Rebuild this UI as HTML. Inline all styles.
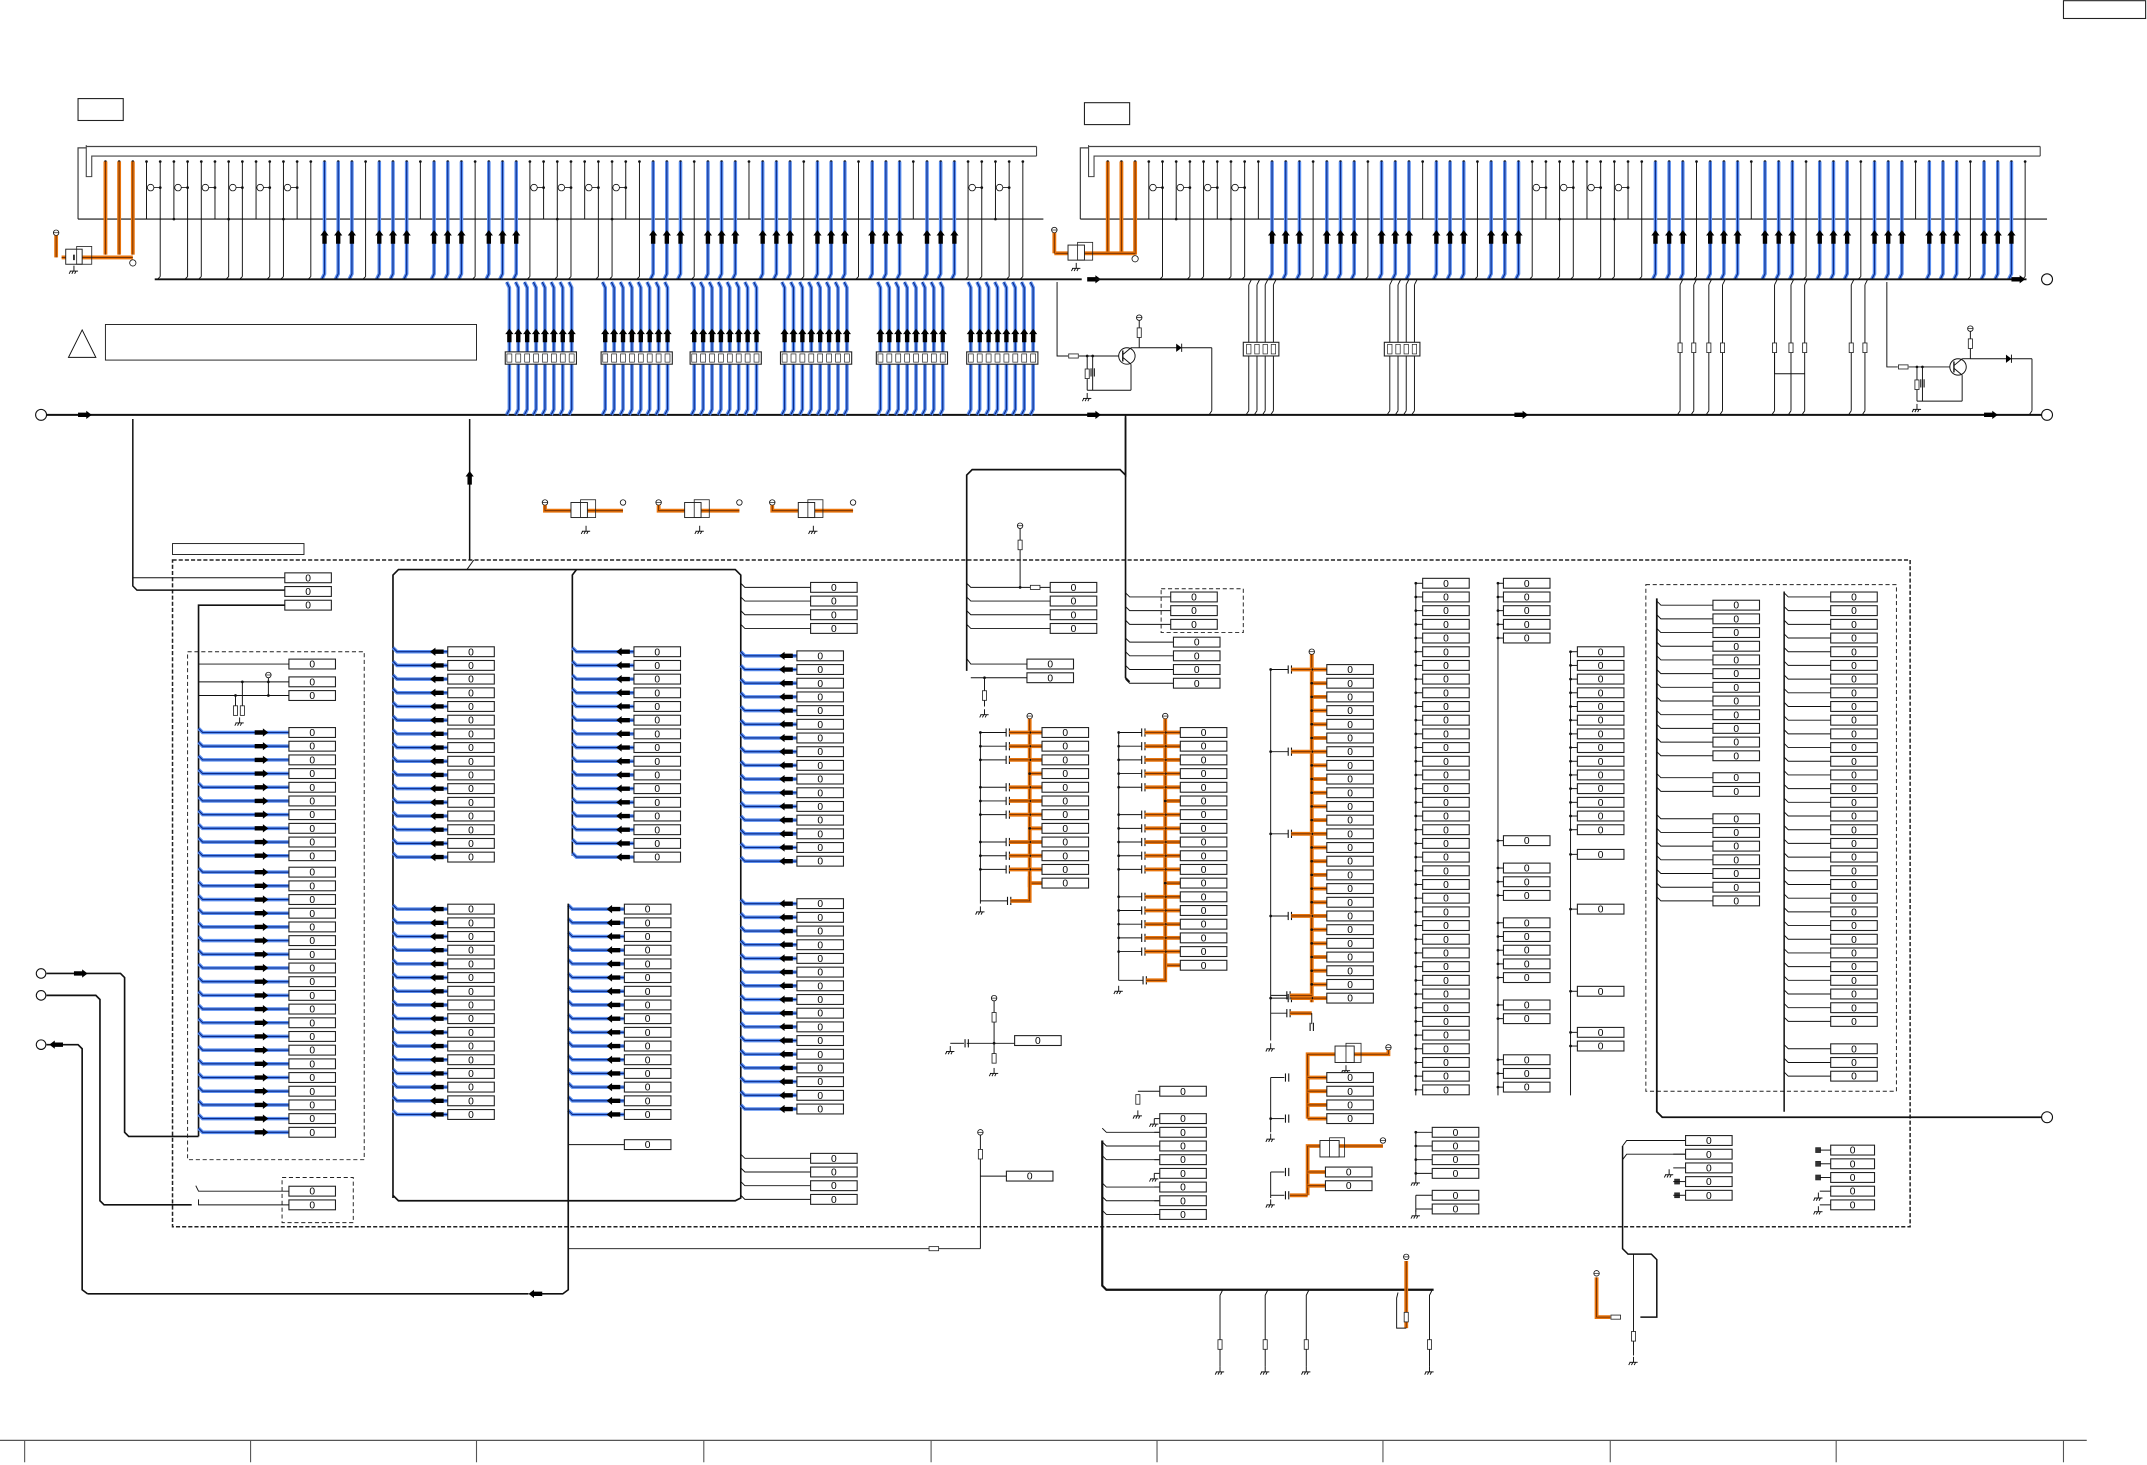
<!DOCTYPE html>
<html><head><meta charset="utf-8">
<style>html,body{margin:0;padding:0;background:#fff;}svg{display:block}</style>
</head><body>
<svg id="s" xmlns="http://www.w3.org/2000/svg" width="2147" height="1465" viewBox="0 0 1568 1070" preserveAspectRatio="none" font-family="Liberation Sans, sans-serif"></svg>
<script>
const S=[];
function l(x1,y1,x2,y2,c,w){S.push(`<line x1="${x1}" y1="${y1}" x2="${x2}" y2="${y2}" stroke="${c||'#111'}" stroke-width="${w||0.7}"/>`);}
function pl(p,c,w,d){S.push(`<polyline points="${p}" fill="none" stroke="${c||'#111'}" stroke-width="${w||0.7}"${d?` stroke-dasharray="${d}"`:''}/>`);}
function r(x,y,w,h,sw,f,d){S.push(`<rect x="${x}" y="${y}" width="${w}" height="${h}" fill="${f||'#fff'}" stroke="#222" stroke-width="${sw||0.7}"${d?` stroke-dasharray="${d}"`:''}/>`);}
function box(x,y,w){w=w||34;r(x,y-3.6,w,7.2,0.8);S.push(`<text x="${x+w/2}" y="${y+2.6}" font-size="7.5" text-anchor="middle">0</text>`);}
function blue(p){pl(p,'#5b8ff0',2.6);pl(p,'#0b2b8a',0.8);}
function orange(p){pl(p,'#e8740c',2.8);pl(p,'#6a2a00',0.6);}
function circ(x,y,rr,sw){S.push(`<circle cx="${x}" cy="${y}" r="${rr}" fill="#fff" stroke="#111" stroke-width="${sw||0.8}"/>`);}
function dot(x,y){S.push(`<circle cx="${x}" cy="${y}" r="1" fill="#111"/>`);}
function poly(p){S.push(`<polygon points="${p}" fill="#000"/>`);}
function aR(x,y){poly(`${x-6},${y-1.6} ${x},${y-1.6} ${x},${y-3} ${x+4},${y} ${x},${y+3} ${x},${y+1.6} ${x-6},${y+1.6}`);}
function aL(x,y){poly(`${x+6},${y-1.6} ${x},${y-1.6} ${x},${y-3} ${x-4},${y} ${x},${y+3} ${x},${y+1.6} ${x+6},${y+1.6}`);}
function aU(x,y){poly(`${x-1.6},${y+6} ${x-1.6},${y} ${x-3},${y} ${x},${y-4} ${x+3},${y} ${x+1.6},${y} ${x+1.6},${y+6}`);}
function gnd(x,y){l(x,y-4,x,y);l(x-3,y,x+3,y);l(x-2.5,y,x-3.5,y+2);l(x-0.5,y,x-1.5,y+2);l(x+1.5,y,x+0.5,y+2);}
function res(x,y){r(x-1.5,y-3.5,3,7,0.6);}
function resH(x,y){r(x-3.5,y-1.5,7,3,0.6);}
function cap(x,y){l(x-1.2,y-3,x-1.2,y+3,'#111',0.8);l(x+1.2,y-3,x+1.2,y+3,'#111',0.8);}
function vcc(x,y){circ(x,y,2,0.6);l(x-2,y,x+2,y,'#111',0.5);}

// title / label boxes
r(1507,0.5,60,13,0.8);
r(57,72,33,16,0.8);r(792,75,33,16,0.8);
// warning
S.push(`<polygon points="60,241 50,261 70,261" fill="#fff" stroke="#111" stroke-width="0.7"/>`);
r(77,237,271,26,0.7);
r(126,397,96,8,0.7);

// connectors
function conn(x0,x1,orX,blueSet,busEnd){
  pl(`${x0},160 ${x0},${108} ${x0+6},108`,'#444',0.9);
  l(x0+6,107,x1,107,'#444',1);
  pl(`${x0+6},106 ${x0+6},129 ${x0+10},129 ${x0+10},114 ${x1},114`,'#444',0.8);
  l(x1,107,x1,114,'#444',0.8);
  l(x0,160,x1+5,160,'#111',0.9);
  for(let i=0;i<68;i++){
    const x=x0+20+i*10; if(x>x1-3)break;
    dot(x,118);
    if(i<3){orange(`${x},118 ${x},186`);continue;}
    if(blueSet.has(i)){blue(`${x},118 ${x},200 ${x-2},204`);aU(x,172);continue;}
    l(x,118,x,160);
    if(i%2==0&&i>3){circ(x-7,137,2.4,0.6);l(x-4.6,137,x,137,'#111',0.6);dot(x,137);}
    if(i>=4&&i%3!=2){l(x,160,x,202);l(x,202,x-2,204);}
    if(i%4==1)dot(x,160);
  }
}
const bl=new Set([16,17,18,20,21,22,24,25,26,28,29,30,40,41,42,44,45,46,48,49,50,52,53,54,56,57,58,60,61,62]);
conn(57,757,0,bl);
const br=new Set([12,13,14,16,17,18,20,21,22,24,25,26,28,29,30,40,41,42,44,45,46,48,49,50,52,53,54,56,57,58,60,61,62,64,65,66]);
conn(789,1490,0,br);
// orange component left
orange('45,188 97,188');circ(97,192,2.3,0.6);vcc(41,170);orange('41,172 41,188');
r(48,182,12,11,0.7);r(56,180,11,13,0.6,'none');l(54,186,54,190,'#111',1.2);gnd(54,198);
orange('770,185 829,185');vcc(770,168);orange('770,170 770,185');circ(829,189,2.3,0.6);
r(780,179,12,11,0.7);r(787,177,11,13,0.6,'none');gnd(786,196);
// buses
l(113,204,790,204,'#111',1.4);aR(800,204);l(800,204,1480,204,'#111',1.4);aR(1475,204);circ(1495,204,4);
l(34,303,1491,303,'#111',1.5);circ(30,303,4);circ(1495,303,4);
aR(63,303);aR(800,303);aR(1112,303);aR(1455,303);
// blue groups between buses
[372,442,507,573,643,709].forEach(X=>{
  for(let k=0;k<8;k++){const x=X+k*6.5;blue(`${x-2},206 ${x},210 ${x},299 ${x-2},303`);aU(x,244);}
  r(X-3,257,52,9,0.8);
  for(let k=0;k<8;k++)r(X+k*6.5-1.8,258.5,3.6,6,0.5);
});
// right bus verticals
[[912,918,924,930],[1015,1021,1027,1033]].forEach(g=>{g.forEach(x=>{l(x,208,x,300);l(x,208,x+2,204);l(x,300,x-2,303);});r(g[0]-4,250,g[3]-g[0]+8,10,0.8);g.forEach(x=>r(x-1.6,251.5,3.2,7,0.5));});
[1227,1237,1248,1258,1296,1308,1318,1352,1362].forEach(x=>{l(x,208,x,300);l(x,208,x+2,204);l(x,300,x-2,303);res(x,254);});
l(1296,258,1296,273);l(1296,273,1318,273);
// transistor circuits
function trans(x0,yb,tx,ty,vx,dx,ex){
  pl(`${x0},206 ${x0},${ty} ${x0+8},${ty}`);resH(x0+12,ty);
  l(x0+16,ty,tx-6,ty);circ(tx,ty,6,0.7);l(tx-3,ty-4,tx-3,ty+4,'#111',1);
  l(tx-3,ty-1,tx+3,ty-6);l(tx-3,ty+1,tx+3,ty+6);
  vcc(tx+9,ty-28);l(tx+9,ty-26,tx+9,ty-6);res(tx+9,ty-17);l(tx+3,ty-6,tx+9,ty-6);
  l(tx+9,ty-6,dx,ty-6);poly(`${dx-3},${ty-9} ${dx-3},${ty-3} ${dx+1},${ty-6}`);l(dx+1,ty-9,dx+1,ty-3);
  l(dx+1,ty-6,ex,ty-6);l(ex,ty-6,ex,300);l(ex,300,ex-2,303);
  dot(x0+22,ty);dot(x0+26,ty);l(x0+22,ty,x0+22,ty+25);res(x0+22,ty+13);cap(x0+26,ty+12);l(x0+26,ty,x0+26,ty+25);
  l(x0+22,ty+25,tx+3,ty+25);l(tx+3,ty+6,tx+3,ty+25);gnd(x0+22,ty+31);
}
trans(772,303,823,260,0,862,885);
trans(1378,303,1430,268,0,1468,1484);
// small orange components row
[[398,455],[481,540],[564,623]].forEach(([a,b])=>{vcc(a,367);orange(`${a},369 ${a},373 ${b},373`);circ(b,367,2,0.6);r(a+19,367,12,11,0.7);r(a+26,365,11,13,0.6,'none');gnd(a+30,388);});
// big dashed
r(126,409,1269,487,1.1,'none','3,1.5');
// connections from main bus
pl('97,306 97,428 100,431 208,431','#111',1.1);l(97,422,208,422,'#111',0.7);
pl('343,306 343,409','#111',1.1);aU(343,348);
pl('346,409 341,416');
// rounded frame C/D/E
pl('287,875 287,420 291,416 537,416 541,420 541,875 537,877 291,877 287,873','#111',1.2);
pl('418,625 418,420 421,416','#111',1.2);
// Col A
box(208,422);box(208,432);box(208,442);
pl('145,830 145,442 149,442 208,442','#111',1.2);
r(137,476,129,371,0.7,'none','3,2');
box(211,485);box(211,498);box(211,508);
l(145,485,211,485);l(145,498,211,498);l(145,508,211,508);
l(177,498,177,520);l(172,508,172,520);res(172,519);res(177,519);dot(177,498);dot(172,508);gnd(175,528);
vcc(196,493);l(196,495,196,508);dot(196,498);dot(196,508);
function brow(vx,y,bx,ax,dir){blue(`${vx},${y-3} ${vx+3},${y} ${bx},${y}`);dir>0?aR(ax,y):aL(ax,y);}
for(let k=0;k<10;k++){const y=535+k*10;brow(145,y,211,192,1);box(211,y);}
for(let k=0;k<20;k++){const y=637+k*10;brow(145,y,211,192,1);box(211,y);}
// col C
for(let k=0;k<16;k++){let y=476+k*10;brow(287,y,327,318,-1);box(327,y);y=664+k*10;brow(287,y,327,318,-1);box(327,y);}
// col D
for(let k=0;k<16;k++){let y=476+k*10;brow(418,y,463,454,-1);box(463,y);y=664+k*10;brow(415,y,456,447,-1);box(456,y);}
pl('415,660 415,942 411,945 395,945','#111',1.2);aL(390,945);l(386,945,64,945,'#111',1.2);
l(415,836,456,836);box(456,836);
// col E
[429,439,449,459].forEach(y=>{pl(`541,${y-3} 544,${y} 592,${y}`);box(592,y);});
for(let k=0;k<16;k++){let y=479+k*10;brow(541,y,582,573,-1);box(582,y);y=660+k*10;brow(541,y,582,573,-1);box(582,y);}
[846,856,866,876].forEach(y=>{pl(`541,${y-3} 544,${y} 592,${y}`);box(592,y);});
// left inputs
circ(30,711,3.5);pl('34,711 88,711 91,714 91,827 94,830 145,830','#111',1.2);aR(60,711);
circ(30,727,3.5);pl('34,727 70,727 73,730 73,877 76,880 140,880','#111',1.2);
circ(30,763,3.5);pl('34,763 57,763 60,766 60,942 64,945','#111',1.2);aL(40,763);
r(206,860,52,33,0.7,'none','3,2');box(211,870);box(211,880);
pl('143,866 145,870 211,870');pl('145,876 145,880 211,880');
// col F
pl('706,490 706,347 710,343 818,343 822,347 822,303','#111',1.2);
[429,439,449,459].forEach(y=>{pl(`706,${y-3} 709,${y} 767,${y}`);box(767,y);});
vcc(745,384);l(745,386,745,429);res(745,398);resH(756,429);dot(745,429);
box(750,485);box(750,495);pl('706,481 709,485 750,485');pl('709,495 750,495');l(719,495,719,516);res(719,508);gnd(719,522);dot(719,495);
// col G
pl('822,305 822,495 825,498','#111',1.2);
r(848,430,60,32,0.7,'none','3,2');
[436,446,456].forEach(y=>{pl(`822,${y-3} 825,${y} 855,${y}`);box(855,y);});
[469,479,489,499].forEach(y=>{pl(`822,${y-3} 825,${y} 857,${y}`);box(857,y);});
// orange cap columns
function orc(vx,y0,n,bx,caps,gx,vy){
  vcc(vx,vy);orange(`${vx},${vy+2} ${vx},${y0+(n-1)*10+3}`);
  for(let k=0;k<n;k++){const y=y0+k*10;orange(`${vx},${y} ${bx},${y}`);box(bx,y);dot(vx,y);
    if(caps.includes(k)){cap(vx-16,y);orange(`${vx-15},${y} ${vx},${y}`);l(gx,y,vx-17,y);dot(gx,y);}}
}
orc(752,535,12,761,[0,1,2,4,5,6,8,9,10],716,523);
l(716,535,716,660);cap(737,658);l(716,658,736,658);orange('738,658 752,658 752,640');gnd(716,666);
orc(851,535,18,862,[0,1,2,3,4,6,7,8,9,10,12,13,14,15,16],817,523);
l(817,535,817,716);cap(836,716);l(817,716,835,716);orange('837,716 851,716 851,700');gnd(817,724);
orc(958,489,25,969,[0,6,12,18,24],928,476);
l(928,489,928,760);cap(941,727);cap(941,740);l(928,727,940,727);l(928,740,940,740);orange('942,727 958,727');orange('942,740 958,740');l(958,740,958,748);cap(958,750);gnd(928,766);
// col H
l(1034,426,1034,800);for(let k=0;k<38;k++){const y=426+k*10;l(1034,y,1039,y);dot(1034,y);box(1039,y);}
// col I
l(1094,426,1094,800);[426,436,446,456,466,614,634,644,654,674,684,694,704,714,734,744,774,784,794].forEach(y=>{l(1094,y,1098,y);dot(1094,y);box(1098,y);});
// col J
l(1147,476,1147,800);for(let k=0;k<14;k++){const y=476+k*10;l(1147,y,1152,y);dot(1147,y);box(1152,y);}
[624,664,724,754,764].forEach(y=>{l(1147,y,1152,y);dot(1147,y);box(1152,y);});
// dashed right box
r(1202,427,183,370,0.7,'none','3,2');
pl('1210,437 1210,812 1214,816 1491,816','#111',1.3);circ(1495,816,4);
[442,452,462,472,482,492,502,512,522,532,542,552,568,578,598,608,618,628,638,648,658].forEach(y=>{pl(`1210,${y-3} 1213,${y} 1251,${y}`);box(1251,y);});
l(1303,432,1303,812,'#111',1.1);
for(let k=0;k<36;k++){const y=436+k*10;if([32].includes(k))continue;pl(`1303,${y-3} 1306,${y} 1337,${y}`);box(1337,y);}
// bottom middle
vcc(726,729);l(726,731,726,775);res(726,743);dot(726,762);l(706,762,741,762);box(741,760);cap(706,762);l(694,762,704,762);gnd(694,768);res(726,773);gnd(726,784);
vcc(716,827);l(716,829,716,912);res(716,843);l(716,859,735,859);box(735,859);pl('415,912 716,912');resH(682,912);
res(831,803);l(831,797,847,797);gnd(831,815);box(847,797);
pl('805,833 805,939 808,942 1047,942','#111',1.6);
[817,827,837,847,857,867,877,887].forEach((y,i)=>{if(i==0||i==4){gnd(843,y+4);}else pl(`805,${y-3} 808,${y} 847,${y}`);l(843,y,847,y);box(847,y);});
[891,924,954,1044].forEach(x=>{pl(`${x+2},942 ${x},946 ${x},998`);res(x,982);gnd(x,1002);});
vcc(1027,918);orange('1027,921 1027,970');res(1027,962);pl('1021,944 1020,948 1020,970 1027,970');
// orange comps lower
vcc(1014,765);orange('1014,767 1014,770 955,770 955,817');r(975,764,14,12,0.7);r(983,762,11,14,0.6,'none');gnd(983,782);
[787,797,807,817].forEach(y=>{orange(`955,${y} 969,${y}`);box(969,y);});
l(928,787,938,787);cap(940,787);l(928,787,928,827);cap(940,817);l(928,817,938,817);gnd(928,832);dot(928,817);
vcc(1010,833);orange('1010,837 955,837 955,873');r(964,833,14,12,0.7);r(971,831,11,14,0.6,'none');
[856,866].forEach(y=>{orange(`955,${y} 968,${y}`);box(968,y);});
l(928,856,928,875);l(928,856,938,856);cap(940,856);l(928,873,938,873);cap(940,873);orange('942,873 955,873');gnd(928,880);
[827,837,847,857].forEach(y=>{l(1034,y,1046,y);dot(1034,y);box(1046,y);});l(1034,827,1034,860);gnd(1034,864);
[873,883].forEach(y=>{l(1034,y,1046,y);box(1046,y);});l(1034,873,1034,885);gnd(1034,888);
// bottom right
[833,843,853,863,873].forEach((y,i)=>{if(i<2)pl(`1185,${y+4} 1188,${y} 1231,${y}`);else if(i==2)gnd(1219,y+5);else{r(1223,y-1.8,3.6,3.6,0.5,'#333');}l(1222,y,1231,y);box(1231,y);});
pl('1185,837 1185,912 1189,916 1206,916 1210,920 1210,962 1198,962','#111',1.1);
vcc(1166,930);orange('1166,933 1166,962 1176,962');resH(1180,962);l(1193,916,1193,990);res(1193,976);gnd(1193,995);
[840,850,860,870,880].forEach((y,i)=>{if(i<3)r(1326,y-1.8,3.6,3.6,0.5,'#333');else gnd(1328,y+5);l(1329,y,1337,y);box(1337,y,32);});
// title block
l(0,1052,1524,1052,'#555',0.9);
[18,183,348,514,680,845,1010,1176,1341,1507].forEach(x=>l(x,1052,x,1068,'#555',0.8));
document.getElementById('s').innerHTML=S.join('');
</script>
</body></html>
